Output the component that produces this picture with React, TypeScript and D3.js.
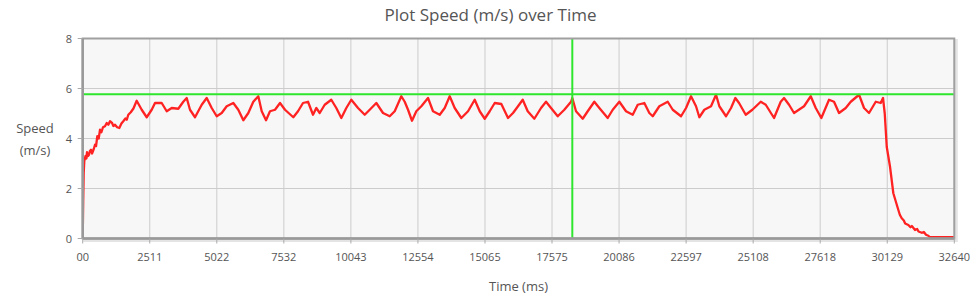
import React from "react";
import * as d3 from "d3";

const title = "Plot Speed (m/s) over Time";
const xLabel = "Time (ms)";
const yLabelLines = ["Speed", "(m/s)"];

const xTickValues = [0, 2511, 5022, 7532, 10043, 12554, 15065, 17575, 20086, 22597, 25108, 27618, 30129, 32640];
const xTickLabels = ["00", "2511", "5022", "7532", "10043", "12554", "15065", "17575", "20086", "22597", "25108", "27618", "30129", "32640"];
const yTickValues = [0, 2, 4, 6, 8];

const maxSpeed = 5.77;
const maxSpeedTime = 18335;

const times = [
  0, 19, 37, 60, 105, 140, 161, 200, 236, 270, 311, 350, 386, 420, 461, 500, 547, 600, 648, 700, 760, 835,
  900, 960, 1022, 1100, 1150, 1210, 1290, 1371, 1450, 1520, 1600, 1650, 1708, 1800, 1900, 1959, 2022,
  2210, 2397, 2584, 2708, 2959, 3146, 3333, 3580, 3767, 3895, 4018, 4206, 4457, 4644, 4831, 5018, 5206, 5393,
  5640, 5827, 6015, 6202, 6389, 6576, 6704, 6865, 7014, 7202, 7389, 7576, 7887, 8063, 8250, 8438, 8625, 8748,
  8876, 9063, 9310, 9497, 9685, 9872, 10059, 10310, 10561, 10748, 10995, 11246, 11497, 11684, 11932, 12059,
  12183, 12332, 12493, 12681, 12932, 13119, 13370, 13557, 13744, 13931, 14179, 14430, 14680, 14868, 15055,
  15242, 15429, 15677, 15928, 16115, 16302, 16478, 16665, 16913, 17164, 17351, 17538, 17789, 18036, 18287,
  18335, 18474, 18725, 18912, 19159, 19347, 19661, 19849, 20096, 20347, 20598, 20785, 21032, 21219, 21347,
  21594, 21908, 22096, 22407, 22594, 22781, 22968, 23092, 23279, 23530, 23717, 23841, 24092, 24279, 24440,
  24579, 24829, 25077, 25391, 25579, 25890, 26140, 26264, 26451, 26638, 27013, 27264, 27451, 27661, 27949,
  28136, 28323, 28574, 28762, 29073, 29260, 29447, 29698, 29885, 29971, 30035, 30110, 30233, 30357, 30545,
  30600, 30671, 30750, 30800, 30919, 31000, 31050, 31170, 31250, 31300, 31421, 31500, 31580, 31668, 31731, 32640,
];

const speeds = [
  0, 1.5, 2.6, 3.1, 3.3, 3.2, 3.45, 3.3, 3.35, 3.5, 3.55, 3.4, 3.5, 3.6, 3.75, 3.7, 4.09, 4.0, 4.35, 4.25, 4.45, 4.49,
  4.62, 4.55, 4.69, 4.62, 4.5, 4.55, 4.45, 4.42, 4.6, 4.69, 4.8, 4.75, 4.95, 5.05, 5.2, 5.35, 5.51,
  5.15, 4.85, 5.15, 5.42, 5.42, 5.09, 5.22, 5.19, 5.47, 5.62, 5.15, 4.85, 5.35, 5.62, 5.22, 4.89, 5.02, 5.29,
  5.42, 5.15, 4.73, 5.02, 5.47, 5.69, 5.09, 4.73, 5.09, 5.15, 5.42, 5.15, 4.85, 5.09, 5.42, 5.47, 4.95, 5.22,
  5.02, 5.35, 5.55, 5.22, 4.82, 5.22, 5.55, 5.22, 4.95, 5.15, 5.42, 5.02, 4.89, 5.09, 5.69, 5.47,
  5.15, 4.71, 5.09, 5.29, 5.62, 5.09, 4.95, 5.22, 5.69, 5.22, 4.82, 5.09, 5.55, 5.09, 4.79,
  5.09, 5.42, 5.38, 4.82, 5.02, 5.29, 5.55, 5.09, 4.79, 5.22, 5.47, 5.22, 4.89, 5.15, 5.47,
  5.62, 5.09, 4.79, 5.09, 5.47, 5.22, 4.82, 5.15, 5.47, 5.09, 4.95, 5.35, 5.42, 5.02, 4.89,
  5.29, 5.47, 5.15, 4.89, 5.22, 5.69, 5.29, 4.85, 5.15, 5.29, 5.75, 5.29, 4.89, 5.22, 5.62,
  5.42, 4.95, 5.15, 5.47, 5.35, 4.82, 5.47, 5.62, 5.35, 5.02, 5.29, 5.69, 5.22, 4.82, 5.55,
  5.47, 5.02, 5.22, 5.47, 5.75, 5.22, 5.02, 5.47, 5.42, 5.62, 5.0, 3.67, 2.87, 1.81, 1.14,
  0.95, 0.81, 0.72, 0.6, 0.54, 0.45, 0.5, 0.34, 0.38, 0.28, 0.23, 0.26, 0.15, 0.11, 0.05, 0.05,
];

const W = 980;
const H = 298;
const margin = { left: 82.7, right: 980 - 954.3, top: 38.5, bottom: 298 - 238.5 };
const font = "'Open Sans', sans-serif";

export default function App() {
  const x = d3.scaleLinear().domain([0, 32640]).range([margin.left, W - margin.right]);
  const y = d3.scaleLinear().domain([0, 8]).range([H - margin.bottom, margin.top]);
  const x0 = x(0), x1 = x(32640), y0 = y(0), y1 = y(8);

  const pts = times.map((t, i) => [t, speeds[i]] as [number, number]);
  const line = d3.line<[number, number]>().x((d) => x(d[0])).y((d) => y(d[1]));

  return (
    <svg width={W} height={H} style={{ position: "absolute", left: 0, top: 0, display: "block" }}>
      <defs>
        <clipPath id="plotClip">
          <rect x={x0} y={y1} width={x1 - x0} height={y0 - y1} />
        </clipPath>
      </defs>
      <rect x={0} y={0} width={W} height={H} fill="#ffffff" />
      <text x={(x0 + x1) / 2 - 28} y={21} textAnchor="middle" fontFamily={font} fontSize={17} fill="#555">
        {title}
      </text>
      <rect x={x0 + 2} y={y1 + 2} width={x1 - x0} height={y0 - y1} fill="none" stroke="#e4e4e4" strokeWidth={3} />
      <rect x={x0} y={y1} width={x1 - x0} height={y0 - y1} fill="#f7f7f7" />
      {xTickValues.map((t, i) => (
        <line key={"gx" + i} x1={x(t)} x2={x(t)} y1={y1} y2={y0} stroke="#cccccc" strokeWidth={1} />
      ))}
      {yTickValues.map((v, i) => (
        <line key={"gy" + i} x1={x0} x2={x1} y1={y(v)} y2={y(v)} stroke="#cccccc" strokeWidth={1} />
      ))}
      <g clipPath="url(#plotClip)">
        <path d={line(pts) || ""} fill="none" stroke="#ff2222" strokeWidth={2.3} strokeLinejoin="round" />
      </g>
      <line x1={x0} x2={x1} y1={y(maxSpeed)} y2={y(maxSpeed)} stroke="#2ee62e" strokeWidth={2} />
      <line x1={x(maxSpeedTime)} x2={x(maxSpeedTime)} y1={y1} y2={y0} stroke="#2ee62e" strokeWidth={2} />
      <rect x={x0} y={y1} width={x1 - x0} height={y0 - y1} fill="none" stroke="#a0a0a0" strokeWidth={2} />
      <line x1={x0} x2={x0} y1={y1} y2={y0} stroke="#999" strokeWidth={2.5} />
      <line x1={x0} x2={x1} y1={y0} y2={y0} stroke="#999" strokeWidth={2.5} />
      {xTickValues.map((t, i) => (
        <g key={"xt" + i}>
          <line x1={x(t)} x2={x(t)} y1={y0} y2={y0 + 5} stroke="#aaa" strokeWidth={1} />
          <text x={x(t)} y={261} textAnchor="middle" fontFamily={font} fontSize={11} fill="#555">
            {xTickLabels[i]}
          </text>
        </g>
      ))}
      {yTickValues.map((v, i) => (
        <g key={"yt" + i}>
          <line x1={x0 - 5} x2={x0} y1={y(v)} y2={y(v)} stroke="#aaa" strokeWidth={1} />
          <text x={72} y={y(v) + 4} textAnchor="end" fontFamily={font} fontSize={11} fill="#555">
            {v}
          </text>
        </g>
      ))}
      <text x={35} textAnchor="middle" fontFamily={font} fontSize={13} fill="#555">
        <tspan x={35} y={133}>{yLabelLines[0]}</tspan>
        <tspan x={35} y={155}>{yLabelLines[1]}</tspan>
      </text>
      <text x={(x0 + x1) / 2} y={291} textAnchor="middle" fontFamily={font} fontSize={13} fill="#555">
        {xLabel}
      </text>
    </svg>
  );
}
